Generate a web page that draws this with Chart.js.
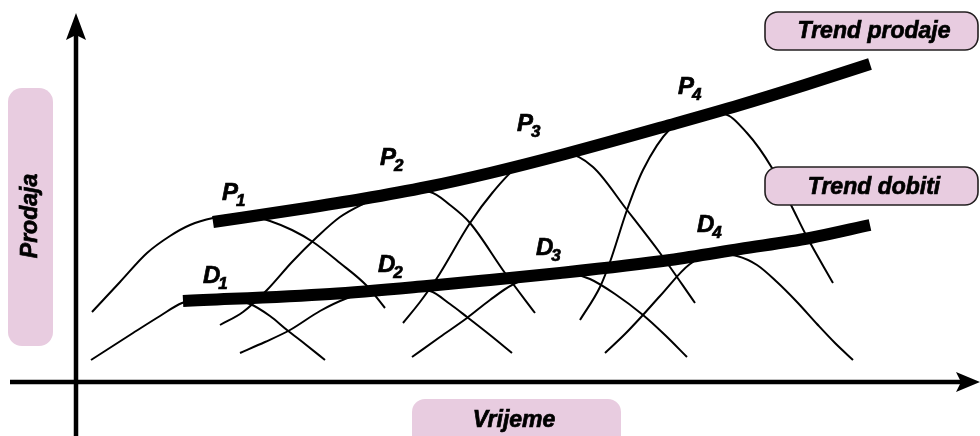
<!DOCTYPE html>
<html>
<head>
<meta charset="utf-8">
<script src="https://cdn.jsdelivr.net/npm/chart.js@4/dist/chart.umd.min.js"></script>
<style>
  html, body { margin: 0; padding: 0; background: #fff; }
  #okvir { width: 980px; height: 436px; position: relative; }
</style>
</head>
<body>
<div id="okvir"><canvas id="grafikon"></canvas></div>
<script>
// x = vrijeme, y = prodaja; ishodiste je sjeciste osi
const trendProdaje = [[137,160],[224,173],[286,183],[351,195],[414,209],[489,228],[594,257],[664,277],[729,297],[794,318]];
const trendDobiti  = [[107,81],[254,88],[351,96],[414,102],[484,109],[594,122],[664,133],[734,144],[794,157]];

// ciklusi prodaje (P1..P4)
const prodajaP1 = [[16,70],[44,100],[71,129],[94,146],[114,157],[137,164],[159,167],[179,165],[194,161],[216,152],[237,140],[264,119],[291,96],[309,74]];
const prodajaP2 = [[144,57],[167,70],[191,92],[216,120],[241,145],[264,165],[287,178],[319,192],[354,190],[374,177],[394,159],[429,109],[459,69]];
const prodajaP3 = [[327,59],[344,80],[361,104],[394,159],[417,190],[441,215],[467,226],[492,228],[517,215],[551,172],[584,129],[619,79]];
const prodajaP4 = [[504,62],[524,95],[534,120],[551,172],[567,212],[594,253],[621,266],[647,268],[671,249],[696,214],[716,175],[731,145],[757,99]];

// ciklusi dobiti (D1..D4)
const dobitD1 = [[15,22],[57,49],[84,66],[106,79],[139,85],[174,78],[194,66],[211,52],[229,38],[249,22]];
const dobitD2 = [[164,29],[189,40],[214,52],[244,71],[269,83],[312,95],[354,91],[374,78],[391,65],[414,47],[436,29]];
const dobitD3 = [[336,25],[364,45],[391,64],[414,82],[436,97],[474,110],[494,109],[514,103],[539,88],[567,67],[589,47],[611,25]];
const dobitD4 = [[529,29],[549,48],[566,66],[584,86],[614,118],[639,128],[661,126],[681,117],[701,100],[721,80],[741,58],[759,39],[777,22]];

const tocke = arr => arr.map(p => ({ x: p[0], y: p[1] }));

const ciklusi = [prodajaP1, prodajaP2, prodajaP3, prodajaP4, dobitD1, dobitD2, dobitD3, dobitD4];

const datasets = [
  { data: tocke(trendProdaje), borderWidth: 12, order: 0 },
  { data: tocke(trendDobiti), borderWidth: 12, order: 0 }
];
ciklusi.forEach(c => datasets.push({ data: tocke(c), borderWidth: 2, order: 1 }));
datasets.forEach(d => {
  d.showLine = true;
  d.borderColor = '#000';
  d.pointRadius = 0;
  d.cubicInterpolationMode = 'monotone';
  d.tension = 0.4;
  d.borderCapStyle = 'butt';
});

// oznake P i D s indeksima
const oznake = [
  { t: 'P', s: '1', x: 146, y: 182 },
  { t: 'P', s: '2', x: 304, y: 217 },
  { t: 'P', s: '3', x: 441, y: 251 },
  { t: 'P', s: '4', x: 602, y: 288 },
  { t: 'D', s: '1', x: 127, y: 99 },
  { t: 'D', s: '2', x: 302, y: 110 },
  { t: 'D', s: '3', x: 460, y: 127 },
  { t: 'D', s: '4', x: 621, y: 150 }
];

const PINK = '#e8cce0';
const FONT = '"Liberation Sans", Arial, sans-serif';

function kutija(ctx, x, y, w, h, r) {
  ctx.beginPath();
  ctx.moveTo(x + r, y);
  ctx.arcTo(x + w, y, x + w, y + h, r);
  ctx.arcTo(x + w, y + h, x, y + h, r);
  ctx.arcTo(x, y + h, x, y, r);
  ctx.arcTo(x, y, x + w, y, r);
  ctx.closePath();
}

// podebljani tekst (ispuna + tanki obrub)
function tekst(ctx, s, x, y) {
  ctx.fillStyle = '#000';
  ctx.strokeStyle = '#000';
  ctx.lineWidth = 0.7;
  ctx.fillText(s, x, y);
  ctx.strokeText(s, x, y);
}

const osi = {
  id: 'osi',
  beforeDatasetsDraw(chart) {
    const ctx = chart.ctx;
    const xs = chart.scales.x, ys = chart.scales.y;
    const x0 = xs.getPixelForValue(0), y0 = ys.getPixelForValue(0);
    const lijevo = xs.getPixelForValue(-66), desno = xs.getPixelForValue(904);
    const dno = ys.getPixelForValue(-54), vrh = ys.getPixelForValue(369);
    ctx.save();
    ctx.strokeStyle = '#000';
    ctx.fillStyle = '#000';
    ctx.lineWidth = 4.5;
    ctx.beginPath();
    ctx.moveTo(lijevo, y0);
    ctx.lineTo(desno - 15, y0);
    ctx.moveTo(x0, dno);
    ctx.lineTo(x0, vrh + 15);
    ctx.stroke();
    // strelice
    ctx.beginPath();
    ctx.moveTo(desno, y0);
    ctx.lineTo(desno - 24, y0 - 10);
    ctx.lineTo(desno - 19, y0);
    ctx.lineTo(desno - 24, y0 + 10);
    ctx.closePath();
    ctx.fill();
    ctx.beginPath();
    ctx.moveTo(x0, vrh);
    ctx.lineTo(x0 - 10, vrh + 27);
    ctx.lineTo(x0, vrh + 22);
    ctx.lineTo(x0 + 10, vrh + 27);
    ctx.closePath();
    ctx.fill();
    ctx.restore();
  }
};

const natpisi = {
  id: 'natpisi',
  afterDatasetsDraw(chart) {
    const ctx = chart.ctx;
    const xs = chart.scales.x, ys = chart.scales.y;
    ctx.save();

    // Prodaja
    ctx.fillStyle = PINK;
    kutija(ctx, 8, 88, 45, 258, 14);
    ctx.fill();
    ctx.save();
    ctx.translate(31, 216);
    ctx.rotate(-Math.PI / 2);
    ctx.font = 'italic bold 23px ' + FONT;
    ctx.textAlign = 'center';
    ctx.textBaseline = 'middle';
    tekst(ctx, 'Prodaja', 0, 0);
    ctx.restore();

    // Vrijeme
    ctx.fillStyle = PINK;
    kutija(ctx, 412, 399, 209, 60, 13);
    ctx.fill();
    ctx.font = 'italic bold 23px ' + FONT;
    ctx.textAlign = 'center';
    ctx.textBaseline = 'alphabetic';
    tekst(ctx, 'Vrijeme', 514, 427);

    // trend natpisi
    [['Trend prodaje', 12, 38], ['Trend dobiti', 167, 194]].forEach(n => {
      ctx.fillStyle = PINK;
      ctx.strokeStyle = '#231f20';
      ctx.lineWidth = 1.6;
      kutija(ctx, 765, n[1], 213, 38, 13);
      ctx.fill();
      ctx.stroke();
      ctx.font = 'italic bold 23px ' + FONT;
      ctx.textAlign = 'center';
      tekst(ctx, n[0], 874, n[2]);
    });

    // P i D
    ctx.textAlign = 'left';
    oznake.forEach(o => {
      const px = xs.getPixelForValue(o.x), py = ys.getPixelForValue(o.y);
      ctx.font = 'italic bold 24px ' + FONT;
      tekst(ctx, o.t, px, py);
      const w = ctx.measureText(o.t).width;
      ctx.font = 'italic bold 17px ' + FONT;
      tekst(ctx, o.s, px + w - 2, py + 6);
    });
    ctx.restore();
  }
};

new Chart(document.getElementById('grafikon'), {
  type: 'scatter',
  data: { datasets: datasets },
  options: {
    responsive: true,
    maintainAspectRatio: false,
    animation: false,
    events: [],
    layout: { padding: 0 },
    plugins: { legend: { display: false }, tooltip: { enabled: false } },
    scales: {
      x: { type: 'linear', min: -76, max: 904, display: false },
      y: { type: 'linear', min: -54, max: 382, display: false }
    }
  },
  plugins: [osi, natpisi]
});
</script>
</body>
</html>
